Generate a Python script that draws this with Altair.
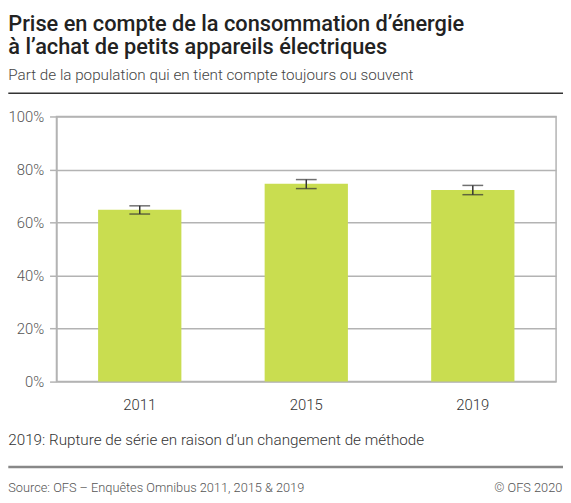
import altair as alt
import pandas as pd

# values (percent of population)
years = ["2011", "2015", "2019"]
share = [64.8, 74.6, 72.3]
ci_low = [63.2, 72.8, 70.5]
ci_high = [66.3, 76.2, 74.0]

title_lines = [
    "Prise en compte de la consommation d’énergie",
    "à l’achat de petits appareils électriques",
]
subtitle = "Part de la population qui en tient compte toujours ou souvent"
note = "2019: Rupture de série en raison d’un changement de méthode"
source = "Source: OFS – Enquêtes Omnibus 2011, 2015 & 2019"
copyright_text = "© OFS 2020"

FONT = "Roboto"
GREY = "#b3b3b3"

df = pd.DataFrame({"year": years, "share": share, "low": ci_low, "high": ci_high})

x = alt.X(
    "year:N",
    title=None,
    scale=alt.Scale(paddingInner=0.5, paddingOuter=0.25),
    axis=alt.Axis(
        labelAngle=0, ticks=False, domain=False, labelPadding=16,
        labelFontSize=15, labelFontWeight=300, labelColor="#333", labelFont=FONT,
    ),
)
y = alt.Y(
    "share:Q",
    title=None,
    scale=alt.Scale(domain=[0, 100]),
    axis=alt.Axis(
        values=[0, 20, 40, 60, 80, 100],
        labelExpr="datum.value + '%'",
        grid=True, gridColor=GREY, gridWidth=1.5,
        domainColor=GREY, domainWidth=1.5,
        tickColor=GREY, tickWidth=1.5, tickSize=7, labelPadding=6,
        labelFontSize=15, labelFontWeight=300, labelColor="#555", labelFont=FONT,
    ),
)

bars = alt.Chart(df).mark_bar(color="#c9dd50").encode(x=x, y=y)

err = alt.Chart(df).mark_rule(color="#333", strokeWidth=1.5).encode(
    x="year:N", y="low:Q", y2="high:Q"
)
cap_hi = alt.Chart(df).mark_tick(color="#333", size=21, thickness=1.5).encode(
    x="year:N", y="high:Q"
)
cap_lo = alt.Chart(df).mark_tick(color="#333", size=21, thickness=1.5).encode(
    x="year:N", y="low:Q"
)


def label(text, px, py, size, weight, color, align="left"):
    return (
        alt.Chart(pd.DataFrame({"t": [text]}))
        .mark_text(font=FONT, fontSize=size, fontWeight=weight, color=color,
                   align=align, baseline="alphabetic")
        .encode(text="t:N", x=alt.value(px), y=alt.value(py))
    )


def hline(py, color, width):
    return (
        alt.Chart(pd.DataFrame({"a": [0]}))
        .mark_rule(color=color, strokeWidth=width)
        .encode(x=alt.value(-48.7), x2=alt.value(513), y=alt.value(py))
    )


layers = [
    bars, err, cap_hi, cap_lo,
    label(title_lines[0], -48.7, -86.5, 22, 500, "#222"),
    label(title_lines[1], -48.7, -63, 22, 500, "#222"),
    label(subtitle, -48.7, -37, 15.4, 300, "#444"),
    hline(-23.5, "#333", 1.5),
    label(note, -48.7, 331.7, 15.4, 300, "#333"),
    hline(354.3, "#888", 2.5),
    label(source, -48.7, 380, 12.9, 300, "#555"),
    label(copyright_text, 511.3, 380, 12.9, 300, "#555", align="right"),
]

chart = (
    alt.layer(*layers)
    .properties(
        width=505, height=268,
        autosize=alt.AutoSizeParams(type="none"),
        padding={"left": 49, "top": 107, "right": 7, "bottom": 115},
    )
    .configure_view(stroke=GREY, strokeWidth=1.5)
)

chart.save("out.html", embed_options={"renderer": "svg", "actions": False})
